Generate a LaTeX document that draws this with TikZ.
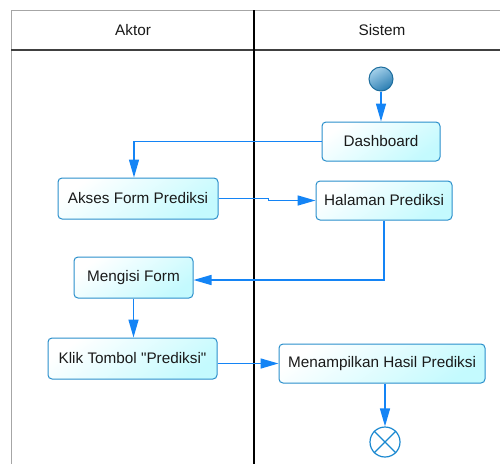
\documentclass[tikz,border=0pt]{standalone}
\usepackage{fontspec}
\setmainfont{Liberation Sans}
\usetikzlibrary{arrows.meta}
\definecolor{flow}{HTML}{1484F5}
\definecolor{boxline}{HTML}{2A8FCB}
\definecolor{boxfill}{HTML}{C4FAFE}
\definecolor{txt}{HTML}{1A1A1A}
\definecolor{ballhi}{HTML}{A4D0EA}
\definecolor{balllo}{HTML}{2A7DB2}
\definecolor{ballrim}{HTML}{1E6E9E}
\definecolor{endline}{HTML}{1A88D0}
\tikzset{
  activity/.style={rectangle, rounded corners=4pt, draw=boxline, line width=1pt,
    top color=white, bottom color=boxfill, shading angle=35,
    minimum height=39pt, inner sep=0pt, text=txt,
    font=\fontsize{15.3pt}{17pt}\selectfont},
  flowline/.style={draw=flow, line width=1.5pt,
    -{Triangle[length=18pt,width=10pt]}},
  lane/.style={font=\fontsize{15.3pt}{17pt}\selectfont, text=txt}
}
\begin{document}
\begin{tikzpicture}[x=1pt,y=-1pt]
  \useasboundingbox (0,0) rectangle (500,464);

  % swimlane frame
  \draw[gray!70, line width=1pt] (11,10) -- (500,10);
  \draw[gray!70, line width=1pt] (11,10) -- (11,464);
  \draw[black!75, line width=1.3pt] (11,50) -- (500,50);
  \draw[black, line width=1.3pt] (254,10) -- (254,464);
  \node[lane] (laneA) at (133,30) {Aktor};
  \node[lane] (laneS) at (382,30) {Sistem};

  % start and end
  \node[circle, minimum size=24pt, inner sep=0pt, draw=ballrim, line width=1pt,
        top color=ballhi, bottom color=balllo, shading angle=30] (start) at (381,79) {};
  \node[circle, minimum size=30pt, inner sep=0pt, draw=endline, line width=1.2pt,
        fill=white] (stop) at (385,442) {};
  \draw[endline, line width=1.2pt] (stop.north west) -- (stop.south east)
        (stop.north east) -- (stop.south west);

  % activities
  \node[activity, minimum width=118pt] (dash) at (381,141.5) {Dashboard};
  \node[activity, minimum width=136pt] (hal) at (384,200.5) {Halaman Prediksi};
  \node[activity, minimum width=160pt, minimum height=41pt] (akses) at (138,198.5) {Akses Form Prediksi};
  \node[activity, minimum width=119pt, minimum height=41pt] (isi) at (133.5,277.5) {Mengisi Form};
  \node[activity, minimum width=169pt, minimum height=41pt] (klik) at (132.5,358.5) {Klik Tombol \textquotedbl Prediksi\textquotedbl};
  \node[activity, minimum width=206pt] (hasil) at (382,363.5) {Menampilkan Hasil Prediksi};

  % control flow
  \draw[flowline] (start) -- (dash.north);
  \draw[flowline] (dash.west) -| ([xshift=-4pt]akses.north);
  \draw[flowline] (akses.east) -- ++(50,0) |- (hal.west);
  \draw[flowline] (hal.south) |- ([yshift=-2.5pt]isi.east);
  \draw[flowline] (isi.south) -- (isi.south |- klik.north);
  \draw[flowline] (klik.east |- hasil.west) -- (hasil.west);
  \draw[flowline] ([xshift=3pt]hasil.south) -- (stop.north);
\end{tikzpicture}
\end{document}
